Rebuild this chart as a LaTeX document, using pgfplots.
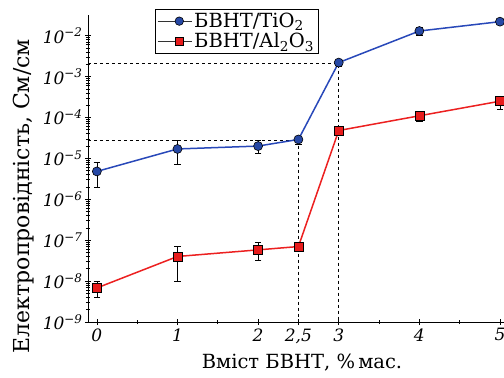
\documentclass[border=0pt]{standalone}
\usepackage{pgfplots}
\pgfplotsset{compat=1.18}
\usepackage{fontspec}
\setmainfont{DejaVu Serif}
\definecolor{bline}{RGB}{40,72,185}
\definecolor{bfill}{RGB}{38,72,165}
\definecolor{rline}{RGB}{236,32,32}
\definecolor{rfill}{RGB}{232,28,28}
\begin{document}
\begin{tikzpicture}
\begin{axis}[name=ax, scale only axis, width=416pt, height=307pt,
  xmin=-0.11, xmax=5.05, ymode=log, ymin=1e-9, ymax=0.032,
  axis lines*=left, axis line style={line width=0.8pt},
  xtick={0,1,2,2.5,3,4,5}, xticklabels={0,1,2,{2,5},3,4,5},
  minor xtick={0.5,1.5,3.5,4.5},
  ytick={1e-9,1e-8,1e-7,1e-6,1e-5,1e-4,1e-3,1e-2},
  yticklabels={10\textsuperscript{−9},10\textsuperscript{−8},10\textsuperscript{−7},10\textsuperscript{−6},10\textsuperscript{−5},10\textsuperscript{−4},10\textsuperscript{−3},10\textsuperscript{−2}},
  tick align=center, major tick length=6pt, minor tick length=4pt,
  tick style={black, line width=0.7pt},
  tick label style={font=\fontsize{17}{19}\selectfont\itshape},
  yticklabel style={xshift=1pt},
  xlabel={Вміст БВНТ, \%\,мас.},
  ylabel={Електропровідність, См/см},
  xlabel style={font=\fontsize{19.5}{22}\selectfont, yshift=-4pt, xshift=6pt},
  ylabel style={font=\fontsize{22}{24}\selectfont, at={(ticklabel cs:0.41)}, yshift=2pt},
  error bars/error bar style={black, line width=0.6pt},
  error bars/error mark options={rotate=90, mark size=3.2pt, black, line width=0.6pt},
]
\addplot[black, dashed, line width=0.8pt] coordinates {(-0.11,2.8e-5) (2.5,2.8e-5) (2.5,1e-9)};
\addplot[black, dashed, line width=0.8pt] coordinates {(-0.11,2.1e-3) (3,2.1e-3) (3,1e-9)};
\addplot[bline, line width=1.5pt, mark=*, mark size=4.5pt, mark options={fill=bfill, draw=black, line width=0.6pt},
  error bars/.cd, y dir=both, y explicit]
  coordinates {
  (0,4.8e-6) += (0,3.2e-6) -= (0,2.8e-6)
  (1,1.7e-5) += (0,1.0e-5) -= (0,1.0e-5)
  (2,2.0e-5) += (0,0.8e-5) -= (0,0.7e-5)
  (2.5,2.9e-5) += (0,0.4e-5) -= (0,0.7e-5)
  (3,2.2e-3) += (0,0.5e-3) -= (0,0.4e-3)
  (4,1.3e-2) += (0,0.3e-2) -= (0,0.3e-2)
  (5,2.2e-2) += (0,0.3e-2) -= (0,0.3e-2)
  };
\addplot[rline, line width=1.5pt, mark=square*, mark size=4.5pt, mark options={fill=rfill, draw=black, line width=0.6pt},
  error bars/.cd, y dir=both, y explicit]
  coordinates {
  (0,6.8e-9) += (0,3.2e-9) -= (0,2.8e-9)
  (1,4.0e-8) += (0,3.0e-8) -= (0,3.0e-8)
  (2,5.8e-8) += (0,3.2e-8) -= (0,2.5e-8)
  (2.5,7.0e-8) += (0,0.8e-8) -= (0,1.2e-8)
  (3,4.8e-5) += (0,0.6e-5) -= (0,0.8e-5)
  (4,1.1e-4) += (0,0.2e-4) -= (0,0.3e-4)
  (5,2.5e-4) += (0,0.7e-4) -= (0,0.9e-4)
  };
\end{axis}
\begin{axis}[at={(ax.south west)}, anchor=south west, scale only axis, width=416pt, height=307pt,
  hide axis, xmin=0, xmax=1, ymin=0, ymax=1,
  legend style={at={(0.161,1.02)}, anchor=north west, font=\fontsize{19.5}{22}\selectfont, draw=black, line width=0.6pt, inner sep=2pt, row sep=0pt},
  legend cell align=left]
\addlegendimage{legend image code/.code={\draw[black!80, line width=0.8pt] (0cm,0cm) -- (1.2cm,0cm); \node[circle, draw=black, fill=bfill, line width=0.6pt, inner sep=0pt, minimum size=8.5pt] at (0.6cm,0cm) {};}}
\addlegendentry{БВНТ/TiO\textsubscript{2}}
\addlegendimage{legend image code/.code={\draw[black!80, line width=0.8pt] (0cm,0cm) -- (1.2cm,0cm); \node[rectangle, draw=black, fill=rfill, line width=0.6pt, inner sep=0pt, minimum size=8.5pt] at (0.6cm,0cm) {};}}
\addlegendentry{БВНТ/Al\textsubscript{2}O\textsubscript{3}}
\end{axis}
\pgfresetboundingbox
\path[use as bounding box] ([xshift=-88pt,yshift=-56pt]ax.south west) rectangle ([yshift=15pt]ax.north east);
\end{tikzpicture}
\end{document}
